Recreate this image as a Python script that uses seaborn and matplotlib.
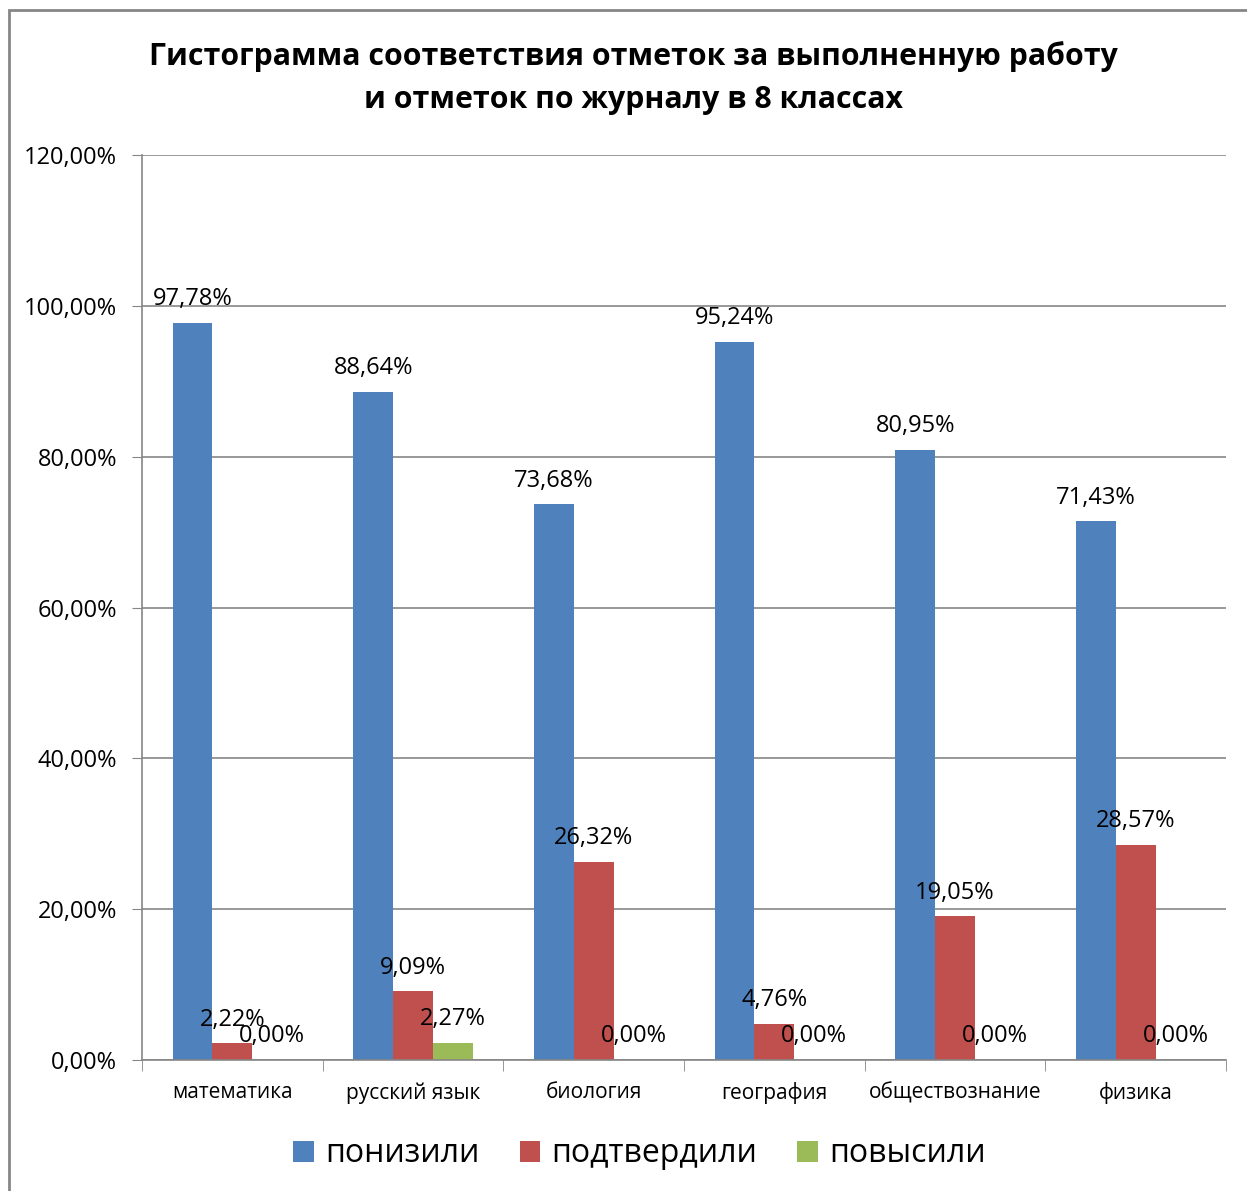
import matplotlib
matplotlib.use("Agg")
import matplotlib.pyplot as plt
import numpy as np
import pandas as pd
import seaborn as sns
from matplotlib.patches import Rectangle, Patch
from matplotlib.ticker import FuncFormatter

subjects = ["математика", "русский язык", "биология", "география", "обществознание", "физика"]
series = ["понизили", "подтвердили", "повысили"]
lowered = [97.78, 88.64, 73.68, 95.24, 80.95, 71.43]
confirmed = [2.22, 9.09, 26.32, 4.76, 19.05, 28.57]
raised = [0.00, 2.27, 0.00, 0.00, 0.00, 0.00]
palette = ["#4F81BD", "#C0504D", "#9BBB59"]

df = pd.DataFrame({
    "предмет": subjects * 3,
    "серия": [s for s in series for _ in subjects],
    "значение": np.array(lowered + confirmed + raised) / 100,
})

sns.set_style("white")
plt.rcParams["font.family"] = ["Open Sans", "DejaVu Sans"]
plt.rcParams["text.color"] = "black"
plt.rcParams["xtick.labelcolor"] = "black"
plt.rcParams["ytick.labelcolor"] = "black"

fig = plt.figure(figsize=(12.47, 11.91), dpi=100)
ax = fig.add_axes([142 / 1247, 1 - 1060 / 1191, (1226 - 142) / 1247, (1060 - 155) / 1191])

sns.barplot(data=df, x="предмет", y="значение", hue="серия", order=subjects,
            hue_order=series, palette=palette, width=0.66, gap=0, saturation=1,
            edgecolor="none", ax=ax, legend=False)

ax.set_ylim(0, 1.2)
ax.set_xlim(-0.5, len(subjects) - 0.5)
ax.set_yticks(np.arange(0, 1.21, 0.2))
ax.yaxis.set_major_formatter(FuncFormatter(lambda v, p: f"{v*100:.2f}%".replace(".", ",")))
ax.grid(axis="y", color="#868686", linewidth=1.2)
ax.set_axisbelow(True)
for side in ["top", "right"]:
    ax.spines[side].set_visible(False)
for side in ["left", "bottom"]:
    ax.spines[side].set_color("#868686")
    ax.spines[side].set_linewidth(1.2)
ax.set_xlabel("")
ax.set_ylabel("")
ax.tick_params(axis="y", labelsize=17, length=7, color="#868686", left=True, pad=11)
ax.set_xticks(np.arange(len(subjects)))
ax.set_xticklabels(subjects, fontsize=15)
ax.tick_params(axis="x", length=0, pad=16)
ax.set_xticks(np.arange(-0.5, len(subjects)), minor=True)
ax.tick_params(axis="x", which="minor", length=8, color="#868686", bottom=True)

for cont in ax.containers:
    for bar in cont:
        h = bar.get_height()
        ax.annotate(f"{h*100:.2f}%".replace(".", ","),
                    (bar.get_x() + bar.get_width() / 2, h),
                    xytext=(0, 17), textcoords="offset points",
                    ha="center", va="center", fontsize=17)

fig.text(0.508, 1 - 57 / 1191, "Гистограмма соответствия отметок за выполненную работу",
         ha="center", va="center", fontsize=21.8, fontweight="bold")
fig.text(0.508, 1 - 100 / 1191, "и отметок по журналу в 8 классах",
         ha="center", va="center", fontsize=21.8, fontweight="bold")

handles = [Patch(facecolor=c, edgecolor="none") for c in palette]
fig.legend(handles, series, loc="center", bbox_to_anchor=(0.513, 1 - 1154 / 1191),
           ncol=3, frameon=False, fontsize=23, handlelength=0.65, handleheight=0.65,
           handletextpad=0.35, columnspacing=1.25)

fig.patches.append(Rectangle((9 / 1247, -0.01), 1.0, 1 - 10 / 1191 + 0.01,
                             transform=fig.transFigure, fill=False,
                             edgecolor="#868686", linewidth=2))

fig.savefig("out.png", dpi=100)
